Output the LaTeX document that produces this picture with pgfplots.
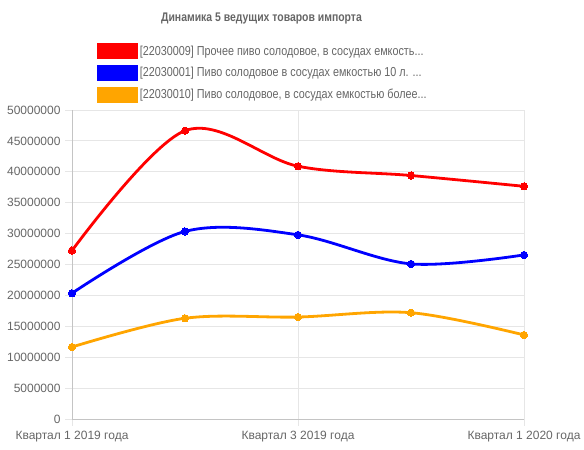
\documentclass[border=0pt]{standalone}
\usepackage{fontspec}
\setmainfont{Liberation Sans}
\newfontfamily\legfont[FakeStretch=0.83]{Liberation Sans}
\newfontfamily\titlefont[FakeStretch=0.835]{Liberation Sans}
\usepackage{pgfplots}
\pgfplotsset{compat=1.18}

\definecolor{tickgray}{HTML}{666666}
\definecolor{gridgray}{HTML}{E6E6E6}
\definecolor{axisgray}{HTML}{C4C4C4}
\definecolor{sred}{HTML}{FF0000}
\definecolor{sblue}{HTML}{0000FF}
\definecolor{sorange}{HTML}{FFA500}

\begin{document}
\begin{tikzpicture}
\useasboundingbox (-72bp,-31bp) rectangle (512bp,419bp);
\begin{axis}[
  scale only axis,
  width=452bp, height=309bp,
  xmin=0, xmax=4,
  ymin=0, ymax=50000000,
  xtick={0,2,4},
  xticklabels={Квартал 1 2019 года, Квартал 3 2019 года, Квартал 1 2020 года},
  ytick={0,5000000,...,50000000},
  scaled y ticks=false,
  yticklabel style={/pgf/number format/fixed, /pgf/number format/1000 sep={}},
  /pgf/number format/assume math mode=true,
  ticklabel style={font=\fontsize{12bp}{14bp}\selectfont, text=tickgray},
  xticklabel style={yshift=-2bp},
  yticklabel style={xshift=-1bp},
  axis x line*=bottom, axis y line*=left,
  axis line style={axisgray, line width=0.8bp, -},
  grid=major,
  major grid style={gridgray, line width=0.8bp},
  tick align=outside,
  major tick length=7bp,
  tick style={gridgray, line width=0.8bp},
  clip=false,
  legend style={at={(axis description cs:0.0553,1.2168)}, anchor=north west,
    draw=none, fill=none, inner sep=0pt, row sep=6bp,
    font=\legfont\fontsize{13bp}{15bp}\selectfont, text=tickgray},
  legend cell align=left,
  legend image code/.code={\fill[#1, mark=none] (0bp,-6.5bp) rectangle (38bp,6.5bp);},
  every axis plot/.append style={smooth, tension=0.55, line width=2.8bp, mark=*, mark size=3.6bp},
]
% [22030009]
\addplot[sred, mark options={fill=sred, line width=0bp}] coordinates {
  (0,27250000) (1,46650000) (2,40900000) (3,39400000) (4,37650000)
};
\addlegendentry{[22030009] Прочее пиво солодовое, в сосудах емкость...}
% [22030001]
\addplot[sblue, mark options={fill=sblue, line width=0bp}] coordinates {
  (0,20350000) (1,30350000) (2,29800000) (3,25100000) (4,26550000)
};
\addlegendentry{[22030001] Пиво солодовое в сосудах емкостью 10 л. ...}
% [22030010]
\addplot[sorange, mark options={fill=sorange, line width=0bp}] coordinates {
  (0,11650000) (1,16300000) (2,16500000) (3,17200000) (4,13600000)
};
\addlegendentry{[22030010] Пиво солодовое, в сосудах емкостью более...}
\end{axis}
\node[font=\titlefont\bfseries\fontsize{12.5bp}{14bp}\selectfont, text=tickgray] at (189.5bp,400bp) {Динамика 5 ведущих товаров импорта};
\end{tikzpicture}
\end{document}
